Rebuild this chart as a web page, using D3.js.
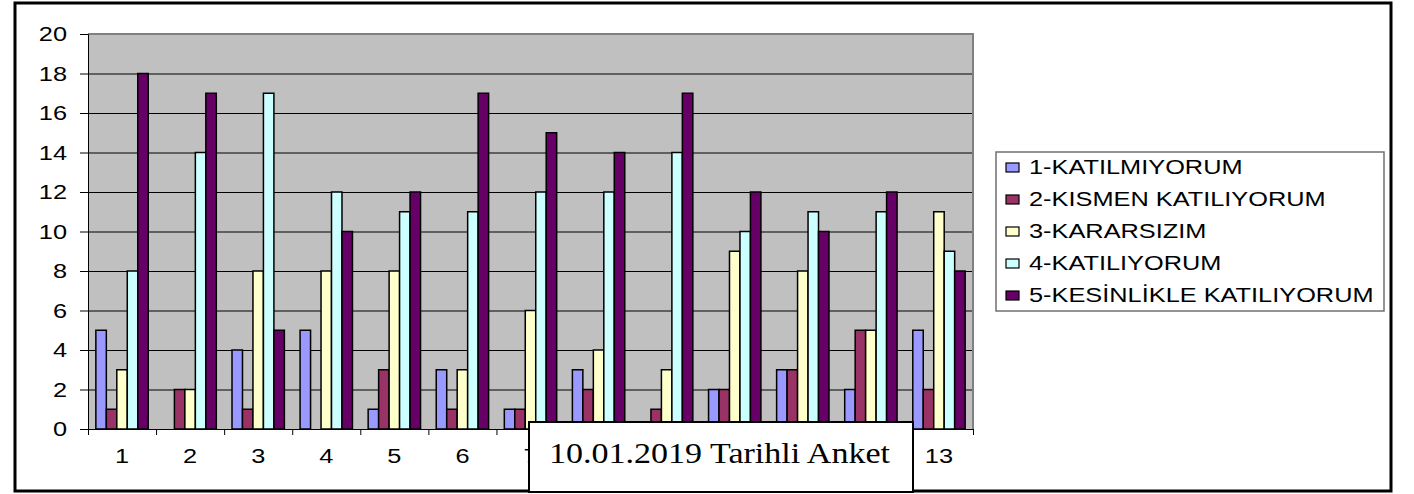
<!DOCTYPE html>
<html lang="tr">
<head>
<meta charset="utf-8">
<title>10.01.2019 Tarihli Anket</title>
<script src="https://cdnjs.cloudflare.com/ajax/libs/d3/7.8.5/d3.min.js"></script>
<style>
    html, body { margin: 0; padding: 0; background: #fff; }
    svg { display: block; }
    .sans { font-family: "Liberation Sans", Arial, sans-serif; font-size: 19.5px; fill: #000; }
    .serif { font-family: "Liberation Serif", "DejaVu Serif", serif; font-size: 30px; fill: #000; }
</style>
</head>
<body>
<svg id="chart" width="1414" height="494"></svg>
<script>
    // question numbers on the x axis
    const questions = ['1', '2', '3', '4', '5', '6', '7', '8', '9', '10', '11', '12', '13'];

    const seriesNames = [
        '1-KATILMIYORUM',
        '2-KISMEN KATILIYORUM',
        '3-KARARSIZIM',
        '4-KATILIYORUM',
        '5-KESİNLİKLE KATILIYORUM'
    ];
    const seriesColors = ['#9999FF', '#993366', '#FFFFCC', '#CCFFFF', '#660066'];

    // answer counts per question
    const katilmiyorum = [5, 0, 4, 5, 1, 3, 1, 3, 0, 2, 3, 2, 5];
    const kismenKatiliyorum = [1, 2, 1, 0, 3, 1, 1, 2, 1, 2, 3, 5, 2];
    const kararsizim = [3, 2, 8, 8, 8, 3, 6, 4, 3, 9, 8, 5, 11];
    const katiliyorum = [8, 14, 17, 12, 11, 11, 12, 12, 14, 10, 11, 11, 9];
    const kesinlikleKatiliyorum = [18, 17, 5, 10, 12, 17, 15, 14, 17, 12, 10, 12, 8];

    const yTicks = [0, 2, 4, 6, 8, 10, 12, 14, 16, 18, 20];
    const chartTitle = '10.01.2019 Tarihli Anket';

    const seriesValues = [katilmiyorum, kismenKatiliyorum, kararsizim, katiliyorum, kesinlikleKatiliyorum];

    // the source picture is stretched sideways, text too
    const SX = 1.3;
    const plot = { left: 88, top: 34, right: 973, bottom: 429 };

    const svg = d3.select('#chart');

    // outer frame
    svg.append('rect')
        .attr('x', 15).attr('y', 3)
        .attr('width', 1376).attr('height', 488)
        .attr('fill', '#fff')
        .attr('stroke', '#000')
        .attr('stroke-width', 3);

    const x = d3.scaleBand()
        .domain(questions)
        .range([plot.left, plot.right])
        .paddingInner(1.5 / 6.5)
        .paddingOuter(0.75 / 6.5);

    const xSeries = d3.scaleBand()
        .domain(d3.range(seriesNames.length))
        .range([0, x.bandwidth()]);

    const xEdges = d3.scaleLinear()
        .domain([0, questions.length])
        .range([plot.left, plot.right]);

    const y = d3.scaleLinear()
        .domain([0, 20])
        .range([plot.bottom, plot.top]);

    // plot background
    svg.append('rect')
        .attr('x', plot.left).attr('y', plot.top)
        .attr('width', plot.right - plot.left)
        .attr('height', plot.bottom - plot.top)
        .attr('fill', '#C0C0C0');

    // gridlines
    svg.append('g')
        .attr('transform', `translate(${plot.left},0)`)
        .call(d3.axisLeft(y).tickValues(yTicks).tickSize(-(plot.right - plot.left)).tickFormat(''))
        .call(g => g.select('.domain').remove())
        .call(g => g.selectAll('line').attr('stroke', '#000').attr('stroke-width', 1));

    // plot border top/right
    svg.append('path')
        .attr('d', `M${plot.left},${plot.top}H${plot.right}V${plot.bottom}`)
        .attr('fill', 'none')
        .attr('stroke', '#808080')
        .attr('stroke-width', 2);

    // bars
    const rows = questions.map((q, i) => ({ q, values: seriesValues.map(s => s[i]) }));

    svg.append('g')
        .selectAll('g')
        .data(rows)
        .join('g')
        .attr('transform', d => `translate(${x(d.q)},0)`)
        .selectAll('rect')
        .data(d => d.values.map((v, k) => ({ k, v })).filter(e => e.v > 0))
        .join('rect')
        .attr('x', e => xSeries(e.k))
        .attr('y', e => y(e.v))
        .attr('width', xSeries.bandwidth())
        .attr('height', e => y(0) - y(e.v))
        .attr('fill', e => seriesColors[e.k])
        .attr('stroke', '#000')
        .attr('stroke-width', 1.5);

    // y axis
    svg.append('g')
        .attr('transform', `translate(${plot.left},0)`)
        .call(d3.axisLeft(y).tickValues(yTicks).tickSize(8).tickPadding(0))
        .call(g => g.select('.domain').attr('stroke', '#000'))
        .call(g => g.selectAll('line').attr('stroke', '#000'))
        .call(g => g.selectAll('text')
            .attr('class', 'sans')
            .attr('font-size', null).attr('font-family', null)
            .attr('x', -21 / SX)
            .attr('dy', '0.35em')
            .attr('transform', `scale(${SX},1)`));

    // x axis: ticks between categories
    svg.append('g')
        .attr('transform', `translate(0,${plot.bottom})`)
        .call(d3.axisBottom(xEdges).ticks(questions.length).tickSize(6).tickFormat(''))
        .call(g => g.select('.domain').attr('stroke', '#000'))
        .call(g => g.selectAll('line').attr('stroke', '#000'));

    // x labels (most sit behind the title box, as in the source)
    svg.append('g')
        .attr('transform', `translate(0,${plot.bottom})`)
        .call(d3.axisBottom(x).tickSize(0))
        .call(g => g.select('.domain').remove())
        .call(g => g.selectAll('text')
            .attr('class', 'sans')
            .attr('font-size', null).attr('font-family', null)
            .attr('y', 34).attr('dy', 0)
            .attr('transform', `scale(${SX},1)`));

    // legend
    const legend = svg.append('g');
    legend.append('rect')
        .attr('x', 996).attr('y', 152)
        .attr('width', 388).attr('height', 159)
        .attr('fill', '#fff')
        .attr('stroke', '#707070')
        .attr('stroke-width', 1.5);

    const item = legend.selectAll('g.item')
        .data(seriesNames)
        .join('g')
        .attr('class', 'item')
        .attr('transform', (d, i) => `translate(1006,${174 + i * 32})`);

    item.append('rect')
        .attr('x', 0).attr('y', -11)
        .attr('width', 13).attr('height', 9)
        .attr('fill', (d, i) => seriesColors[i])
        .attr('stroke', '#000')
        .attr('stroke-width', 1.2);

    item.append('text')
        .attr('class', 'sans')
        .attr('transform', `translate(23,0) scale(${SX},1)`)
        .text(d => d);

    // title box over the bottom of the chart
    svg.append('rect')
        .attr('x', 529).attr('y', 422)
        .attr('width', 384).attr('height', 70)
        .attr('fill', '#fff')
        .attr('stroke', '#000')
        .attr('stroke-width', 2);

    svg.append('text')
        .attr('class', 'serif')
        .attr('x', 549).attr('y', 463)
        .attr('textLength', 341)
        .attr('lengthAdjust', 'spacingAndGlyphs')
        .text(chartTitle);
</script>
</body>
</html>
